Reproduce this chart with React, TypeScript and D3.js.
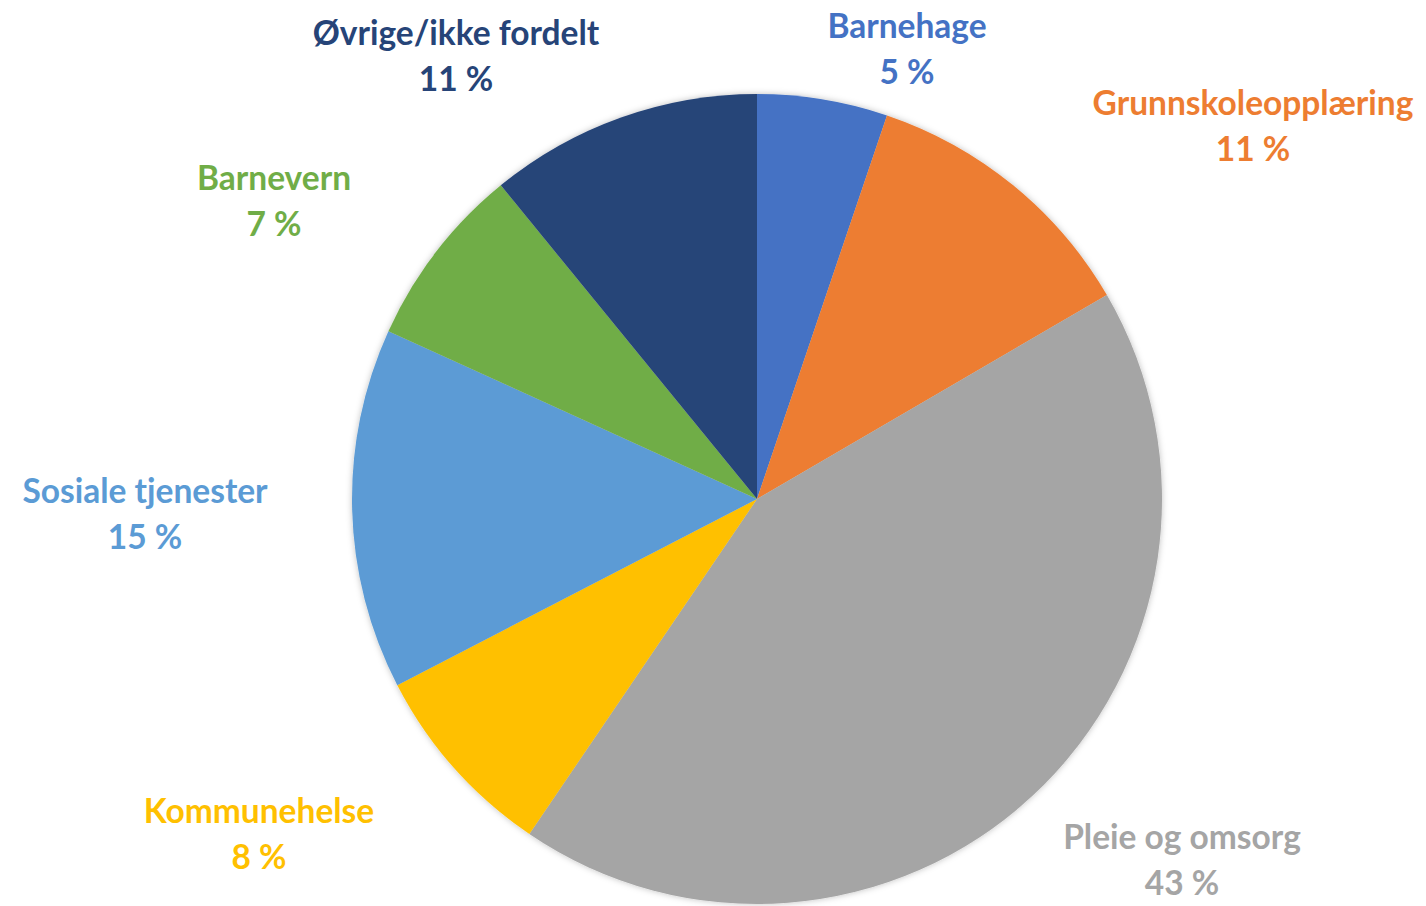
import React from "react";
import * as d3 from "d3";

const categories = ["Barnehage", "Grunnskoleopplæring", "Pleie og omsorg", "Kommunehelse", "Sosiale tjenester", "Barnevern", "Øvrige/ikke fordelt"];
const values = [5.2, 11.4, 42.9, 7.9, 14.4, 7.3, 10.9];
const percentLabels = ["5 %", "11 %", "43 %", "8 %", "15 %", "7 %", "11 %"];
const colors = ["#4472C4", "#ED7D31", "#A5A5A5", "#FFC000", "#5B9BD5", "#70AD47", "#264478"];
const labelPositions: [number, number][] = [
  [907, 25], [1253, 102], [1182, 836], [259, 810], [145, 490], [274, 177], [456, 32],
];

export default function App() {
  const width = 1426, height = 906;
  const cx = 757, cy = 499, r = 405;
  const pie = d3.pie<number>().sort(null).value((d) => d);
  const arcs = pie(values);
  const arc = d3.arc<d3.PieArcDatum<number>>().innerRadius(0).outerRadius(r);
  return (
    <svg width={width} height={height} style={{ position: "absolute", left: 0, top: 0 }}>
      <defs>
        <filter id="sh" x="-10%" y="-10%" width="120%" height="120%">
          <feDropShadow dx="0" dy="0" stdDeviation="3" floodColor="#000" floodOpacity="0.25" />
        </filter>
      </defs>
      <g transform={`translate(${cx},${cy})`} filter="url(#sh)">
        {arcs.map((a, i) => (
          <path key={i} d={arc(a) || ""} fill={colors[i]} />
        ))}
      </g>
      {categories.map((c, i) => (
        <g key={c} fontFamily="Lato, 'Open Sans', sans-serif" fontWeight="bold" fontSize={33.5} fill={colors[i]} textAnchor="middle">
          <text x={labelPositions[i][0]} y={labelPositions[i][1]} dominantBaseline="central">{c}</text>
          <text x={labelPositions[i][0]} y={labelPositions[i][1] + 46} dominantBaseline="central">{percentLabels[i]}</text>
        </g>
      ))}
    </svg>
  );
}
